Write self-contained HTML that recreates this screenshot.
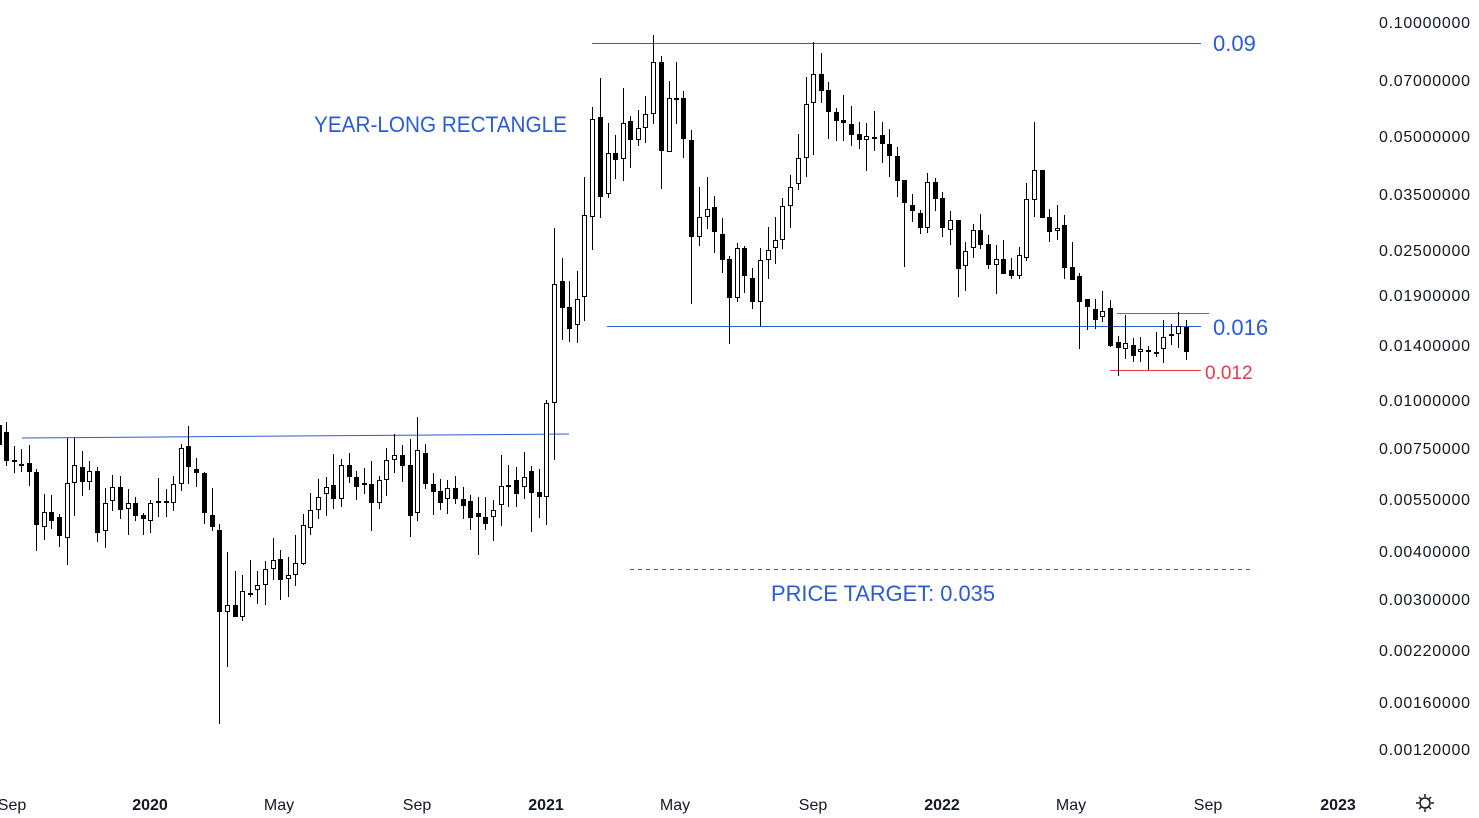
<!DOCTYPE html>
<html><head><meta charset="utf-8"><style>
html,body{margin:0;padding:0;background:#fff;}
svg{display:block;font-family:"Liberation Sans",sans-serif;}
</style></head><body>
<svg id="s" width="1479" height="818" xmlns="http://www.w3.org/2000/svg">
<rect width="1479" height="818" fill="#fff"/>
<line x1="22" y1="438" x2="569" y2="434" stroke="#2a5bd7" stroke-width="1"/>
<line x1="592" y1="43.5" x2="1201" y2="43.5" stroke="#2a5bd7" stroke-width="1"/>
<line x1="607" y1="326.5" x2="1201" y2="326.5" stroke="#2a5bd7" stroke-width="1"/>
<line x1="1117" y1="313.5" x2="1209" y2="313.5" stroke="#e8394a" stroke-width="1"/>
<line x1="1110" y1="370.5" x2="1201" y2="370.5" stroke="#e8394a" stroke-width="1"/>
<line x1="630" y1="569.5" x2="1252" y2="569.5" stroke="#2a5bd7" stroke-width="1" stroke-dasharray="4,4"/>
<g id="c"></g>
<g fill="#2a5bd7" font-size="22">
<text x="1213" y="51">0.09</text>
<text x="1213" y="335">0.016</text>
<text x="314" y="132" textLength="253" lengthAdjust="spacingAndGlyphs">YEAR-LONG RECTANGLE</text>
<text x="771" y="601" textLength="224" lengthAdjust="spacingAndGlyphs">PRICE TARGET: 0.035</text>
</g>
<text x="1205" y="379" fill="#e8394a" font-size="19">0.012</text>
<g font-size="16" fill="#131722">
<text x="1379" y="28" textLength="91">0.10000000</text>
<text x="1379" y="86" textLength="91">0.07000000</text>
<text x="1379" y="142" textLength="91">0.05000000</text>
<text x="1379" y="200" textLength="91">0.03500000</text>
<text x="1379" y="256" textLength="91">0.02500000</text>
<text x="1379" y="301" textLength="91">0.01900000</text>
<text x="1379" y="351" textLength="91">0.01400000</text>
<text x="1379" y="406" textLength="91">0.01000000</text>
<text x="1379" y="454" textLength="91">0.00750000</text>
<text x="1379" y="505" textLength="91">0.00550000</text>
<text x="1379" y="557" textLength="91">0.00400000</text>
<text x="1379" y="605" textLength="91">0.00300000</text>
<text x="1379" y="656" textLength="91">0.00220000</text>
<text x="1379" y="708" textLength="91">0.00160000</text>
<text x="1379" y="755" textLength="91">0.00120000</text>
</g>
<g font-size="16" fill="#131722" text-anchor="middle">
<text x="12" y="810">Sep</text>
<text x="150" y="810" font-weight="bold">2020</text>
<text x="279" y="810">May</text>
<text x="417" y="810">Sep</text>
<text x="546" y="810" font-weight="bold">2021</text>
<text x="675" y="810">May</text>
<text x="813" y="810">Sep</text>
<text x="942" y="810" font-weight="bold">2022</text>
<text x="1071" y="810">May</text>
<text x="1208" y="810">Sep</text>
<text x="1338" y="810" font-weight="bold">2023</text>
</g>
<g stroke="#131722" stroke-width="1.5" fill="none">
<circle cx="1425" cy="803" r="5"/>
<path d="M1425 794v3M1425 809v3M1416 803h3M1431 803h3M1419 797l2 2M1429 807l2 2M1431 797l-2 2M1421 807l-2 2"/>
</g>
</svg>
<script>
var d=[
[-1,425,445,420,452],
[6,432,461,422,466],[14,461,461,446,473],[21,465,465,449,472],[29,463,472,445,486],[36,472,525,469,551],
[44,527,512,494,540],[51,512,521,495,529],[59,517,536,514,547],[67,538,483,438,565],[74,483,465,438,516],
[82,467,482,451,496],[89,482,471,461,490],[97,471,533,467,542],[105,531,503,488,548],[112,501,487,475,511],
[120,487,510,476,519],[128,509,503,489,535],[135,503,516,497,521],[143,515,519,513,535],[150,521,503,500,533],
[158,503,501,478,517],[166,501,503,489,517],[173,503,484,476,511],[181,484,448,444,491],[188,446,467,426,484],
[196,469,473,458,487],[204,473,513,472,524],[212,515,527,488,531],[219,530,612,524,724],[227,612,605,552,667],
[235,605,617,571,617],[242,617,591,575,621],[250,594,594,560,597],[257,590,585,571,604],[265,585,569,561,605],
[273,569,560,538,580],[280,559,580,550,600],[288,579,575,557,597],[295,575,563,535,586],[303,564,525,514,565],
[310,528,510,493,535],[318,510,497,479,519],[326,494,487,477,516],[333,485,499,454,509],[341,499,465,459,507],
[349,465,477,453,483],[356,477,487,471,500],[364,484,484,468,494],[371,484,503,461,531],[379,503,480,476,509],
[386,480,460,448,496],[394,460,455,434,473],[402,455,466,445,482],[410,465,516,439,537],[417,513,450,417,521],
[425,453,484,444,489],[433,484,492,473,515],[440,491,503,479,510],[447,499,488,480,514],[455,488,499,476,504],
[463,499,506,487,519],[470,501,518,495,530],[478,513,517,497,555],[485,517,524,497,530],[493,517,510,500,541],
[501,505,486,455,526],[508,486,486,465,507],[516,480,494,467,507],[524,487,477,452,499],[531,471,493,466,532],
[539,492,497,469,518],[546,497,403,400,525],
[554,403,284,228,460],[562,281,308,258,340],[569,307,329,281,342],[577,325,299,271,343],[584,297,215,177,321],
[592,217,119,107,250],[600,117,197,78,218],[608,194,153,123,198],[615,153,160,135,179],[623,159,123,88,181],
[630,121,140,116,168],[638,140,128,110,146],[645,128,114,96,143],[653,114,62,35,124],[661,62,151,56,189],
[669,152,98,81,152],[676,99,99,62,124],[683,98,139,91,158],[691,140,237,130,304],[699,237,217,187,246],
[707,217,209,177,229],[714,207,232,196,253],[722,234,260,218,273],[729,259,298,256,344],[737,298,248,243,302],
[744,248,276,246,293],[752,278,302,268,309],[760,302,260,248,326],[768,260,250,227,279],[775,248,240,217,264],
[782,240,206,198,249],[790,206,187,175,228],[798,184,158,134,190],[806,158,104,77,177],[813,103,74,42,155],
[821,74,91,53,103],[828,90,112,82,139],[836,112,121,108,141],[843,120,123,95,141],[851,124,135,106,146],
[859,134,140,122,149],[866,140,136,123,171],[874,138,138,111,151],
[882,135,144,122,163],[889,144,156,129,177],[897,156,181,147,197],[904,180,203,180,267],[912,205,211,194,222],
[920,213,228,210,234],[927,228,182,173,233],[935,182,199,178,211],[942,198,228,192,237],[950,230,220,211,245],
[958,220,269,220,297],[965,266,251,242,291],[973,248,230,224,258],[980,230,245,214,249],[988,244,265,235,269],
[996,265,259,245,294],[1003,259,274,240,274],[1011,270,276,258,279],[1019,276,255,247,279],[1026,258,199,183,261],
[1034,200,170,122,217],[1042,170,218,170,218],[1049,217,232,209,242],[1057,231,228,205,240],[1064,225,268,215,279],
[1072,267,280,242,280],[1079,276,302,273,349],[1087,299,307,299,330],[1095,309,320,299,329],[1102,317,311,291,322],
[1110,308,346,300,347],[1118,342,348,336,376],[1125,349,343,315,359],[1133,345,356,338,362],[1140,352,349,337,362],
[1148,350,352,346,370],[1156,352,354,332,357],[1163,349,337,320,363],[1171,336,334,324,345],[1178,334,326,312,348],
[1186,327,352,320,360]
];
var g=document.getElementById('c'),h='';
d.forEach(function(c){
 var x=c[0],o=c[1],cl=c[2],hi=c[3],lo=c[4];
 var top=Math.min(o,cl),bot=Math.max(o,cl);
 h+='<line x1="'+(x+0.5)+'" y1="'+hi+'" x2="'+(x+0.5)+'" y2="'+lo+'" stroke="#000" stroke-width="1"/>';
 var ht=Math.max(bot-top,2);
 if(cl>o){h+='<rect x="'+(x-2)+'" y="'+top+'" width="5" height="'+ht+'" fill="#000"/>';}
 else if(o==cl){h+='<rect x="'+(x-2)+'" y="'+(top-1)+'" width="5" height="2" fill="#000"/>';}
 else{h+='<rect x="'+(x-1.5)+'" y="'+(top+0.5)+'" width="4" height="'+(ht-1)+'" fill="#fff" stroke="#000" stroke-width="1"/>';}
});
g.innerHTML=h;
</script>
</body></html>
